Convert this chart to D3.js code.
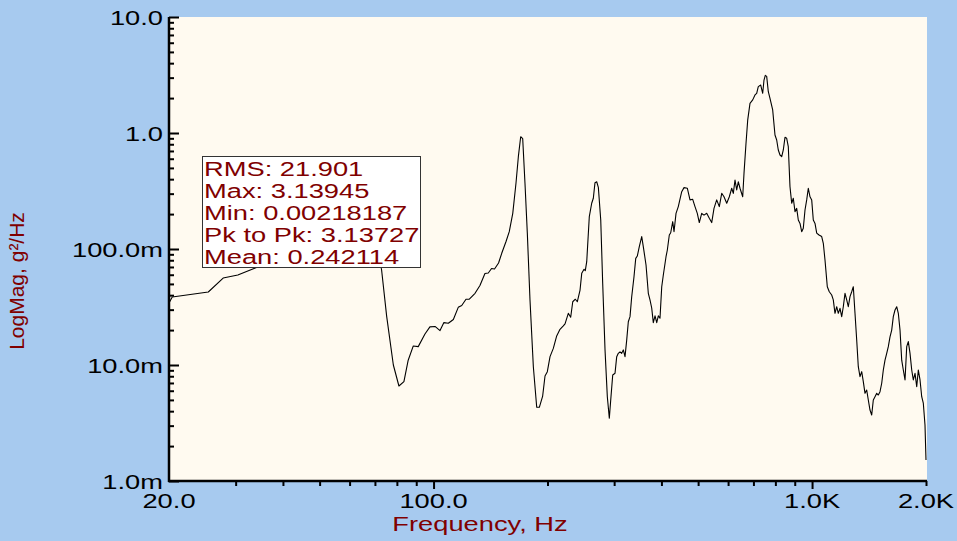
<!DOCTYPE html>
<html>
<head>
<meta charset="utf-8">
<script src="https://cdn.jsdelivr.net/npm/d3@7"></script>
<style>
  html, body { margin: 0; padding: 0; background: #A7CAEF; }
  svg { display: block; }
  text { font-family: "Liberation Sans", Arial, sans-serif; }
</style>
</head>
<body>
<svg id="chart" width="957" height="541"></svg>
<script>
// ---- data ----
const freqHz = [20.0, 20.4, 25.4, 27.8, 30.4, 33.8, 39.3, 47.2, 54.9, 60.9, 65.5, 67.9, 70.4, 72.9, 75.2, 78.3, 81.0, 83.5, 85.7, 88.4, 91.1, 94.9, 97.8, 100.9, 104.0, 106.5, 109.4, 112.8, 116.2, 118.7, 121.8, 124.3, 128.7, 132.6, 136.7, 139.5, 142.3, 144.9, 148.5, 151.4, 155.4, 158.5, 161.9, 165.1, 167.5, 169.9, 172.0, 174.4, 176.9, 179.8, 183.5, 187.3, 190.3, 194.2, 197.0, 199.8, 203.1, 207.2, 211.5, 215.8, 220.2, 222.5, 227.0, 230.3, 233.2, 236.9, 239.8, 243.8, 246.3, 249.8, 251.7, 253.9, 257.9, 261.7, 264.3, 267.0, 269.8, 272.5, 276.5, 279.8, 283.8, 287.8, 291.3, 293.8, 297.4, 301.6, 304.7, 307.7, 310.9, 314.1, 317.2, 320.5, 323.8, 327.0, 330.4, 333.8, 338.5, 342.1, 345.4, 349.6, 354.8, 358.2, 364.2, 369.3, 373.1, 377.0, 380.7, 384.7, 388.7, 392.5, 396.5, 400.7, 404.6, 411.3, 414.6, 419.6, 423.2, 428.4, 431.8, 437.1, 443.2, 452.5, 458.9, 468.2, 475.9, 483.8, 490.6, 497.5, 503.6, 511.0, 518.2, 526.8, 535.2, 543.1, 550.7, 559.8, 568.8, 577.2, 585.3, 595.0, 604.5, 613.4, 619.4, 625.8, 632.3, 638.4, 645.1, 655.8, 661.0, 669.1, 676.0, 685.5, 696.9, 706.7, 714.0, 721.0, 731.7, 740.6, 746.5, 752.4, 758.8, 766.3, 774.2, 787.0, 798.1, 806.4, 814.3, 822.8, 831.4, 839.5, 848.2, 857.0, 865.4, 874.4, 883.5, 892.1, 901.4, 910.8, 919.7, 929.3, 938.9, 948.1, 958.0, 967.9, 977.4, 987.6, 997.8, 1007.6, 1018.1, 1028.7, 1043.2, 1060.4, 1070.8, 1081.9, 1097.2, 1110.6, 1126.9, 1137.9, 1149.7, 1161.7, 1173.1, 1185.3, 1197.6, 1209.3, 1221.9, 1234.6, 1246.7, 1259.6, 1272.7, 1285.2, 1298.5, 1312.0, 1324.9, 1338.6, 1352.6, 1365.8, 1380.0, 1394.3, 1408.0, 1422.6, 1437.4, 1451.5, 1466.6, 1481.8, 1496.3, 1511.9, 1527.6, 1542.6, 1558.6, 1574.8, 1590.2, 1606.7, 1623.4, 1639.3, 1656.4, 1673.6, 1690.0, 1707.6, 1725.3, 1742.2, 1760.3, 1778.6, 1796.0, 1814.7, 1833.6, 1851.5, 1870.8, 1890.2, 1908.7, 1928.6, 1948.6, 1967.4, 1987.8, 2000];

const logMag = [0.0342, 0.0386, 0.0426, 0.0562, 0.0597, 0.0686, 0.0836, 0.102, 0.129, 0.178, 0.286, 0.240, 0.120, 0.0659, 0.0261, 0.0100, 0.00659, 0.00718, 0.0110, 0.0146, 0.0144, 0.0185, 0.0213, 0.0215, 0.0198, 0.0232, 0.0229, 0.0247, 0.0314, 0.0326, 0.0369, 0.0370, 0.0415, 0.0485, 0.0615, 0.0621, 0.0679, 0.0672, 0.0758, 0.0918, 0.116, 0.141, 0.203, 0.369, 0.625, 0.929, 0.893, 0.369, 0.137, 0.0364, 0.00967, 0.00432, 0.00432, 0.00540, 0.00804, 0.00876, 0.0118, 0.0139, 0.0178, 0.0203, 0.0217, 0.0226, 0.0279, 0.0258, 0.0351, 0.0369, 0.0351, 0.0443, 0.0617, 0.0668, 0.0650, 0.0777, 0.190, 0.248, 0.274, 0.373, 0.380, 0.340, 0.178, 0.0506, 0.0135, 0.00533, 0.00347, 0.00499, 0.00820, 0.00848, 0.0118, 0.0126, 0.0130, 0.0126, 0.0135, 0.0118, 0.0164, 0.0236, 0.0261, 0.0388, 0.0577, 0.0831, 0.0870, 0.105, 0.128, 0.105, 0.0728, 0.0415, 0.0364, 0.0310, 0.0232, 0.0265, 0.0232, 0.0265, 0.0253, 0.0473, 0.0597, 0.0858, 0.0980, 0.132, 0.138, 0.172, 0.141, 0.203, 0.232, 0.312, 0.338, 0.334, 0.265, 0.268, 0.232, 0.203, 0.169, 0.203, 0.196, 0.203, 0.184, 0.169, 0.224, 0.265, 0.232, 0.302, 0.282, 0.248, 0.282, 0.334, 0.302, 0.393, 0.323, 0.380, 0.334, 0.282, 0.449, 0.815, 1.29, 1.80, 1.93, 2.13, 2.20, 2.51, 2.59, 2.20, 2.86, 3.14, 3.08, 2.27, 1.99, 1.58, 0.961, 0.870, 0.714, 0.646, 0.625, 0.714, 0.918, 0.900, 0.762, 0.344, 0.248, 0.274, 0.210, 0.224, 0.178, 0.166, 0.141, 0.151, 0.217, 0.265, 0.334, 0.282, 0.265, 0.178, 0.166, 0.137, 0.132, 0.128, 0.112, 0.0804, 0.0473, 0.0428, 0.0401, 0.0364, 0.0279, 0.0318, 0.0279, 0.0308, 0.0261, 0.0318, 0.0415, 0.0364, 0.0318, 0.0388, 0.0428, 0.0473, 0.0279, 0.0164, 0.00967, 0.00793, 0.00876, 0.00718, 0.00570, 0.00609, 0.00499, 0.00409, 0.00371, 0.00499, 0.00533, 0.00570, 0.00551, 0.00589, 0.00696, 0.00906, 0.0110, 0.0126, 0.0144, 0.0175, 0.0200, 0.0261, 0.0298, 0.0318, 0.0279, 0.0200, 0.0110, 0.00906, 0.00743, 0.0144, 0.0159, 0.0126, 0.00906, 0.00743, 0.00848, 0.00650, 0.00906, 0.00743, 0.00533, 0.00470, 0.00304, 0.00152];

const xTickValues = [20, 100, 1000, 2000];
const xTickLabels = ["20.0", "100.0", "1.0K", "2.0K"];
const xMinorTicks = [30, 40, 50, 60, 70, 80, 90, 200, 300, 400, 500, 600, 700, 800, 900, 2000];
const yTickValues = [0.001, 0.01, 0.1, 1, 10];
const yTickLabels = ["1.0m", "10.0m", "100.0m", "1.0", "10.0"];
const yMinorTicks = [];
[0.001, 0.01, 0.1, 1].forEach(d => { for (let k = 2; k <= 9; k++) yMinorTicks.push(d * k); });

const statLabels = ["RMS: 21.901", "Max: 3.13945", "Min: 0.00218187", "Pk to Pk: 3.13727", "Mean: 0.242114"];
const xTitle = "Frequency, Hz";
const yTitle = "LogMag, g\u00B2/Hz";

// ---- layout ----
const W = 957, H = 541;
const L = 169, R = 926, T = 17, B = 481;
const SX = 1.3;             // horizontal text stretch of the original
const darkRed = "#800000";

const svg = d3.select("#chart");
svg.append("rect").attr("width", W).attr("height", H).attr("fill", "#A7CAEF");

const x = d3.scaleLog().domain([20, 2000]).range([L, R]);
const y = d3.scaleLog().domain([0.001, 10]).range([B, T]);

svg.append("rect").attr("x", L).attr("y", T).attr("width", R - L + 1).attr("height", B - T)
  .attr("fill", "#FFFAF0");

function stretchedText(g, tx, ty, str, anchor, color, size) {
  return g.append("text")
    .attr("transform", `translate(${tx},${ty}) scale(${SX},1)`)
    .attr("text-anchor", anchor)
    .attr("fill", color)
    .attr("font-size", size)
    .text(str);
}

// curve
const pts = d3.zip(freqHz, logMag);
const line = d3.line().x(d => x(d[0])).y(d => y(d[1]));
svg.append("path").datum(pts).attr("d", line)
  .attr("fill", "none").attr("stroke", "#000").attr("stroke-width", 1.1)
  .attr("stroke-linejoin", "round");

// axes ticks via d3 axes
const yMajor = svg.append("g").attr("transform", `translate(${L},0)`)
  .call(d3.axisRight(y).tickValues(yTickValues).tickSize(10).tickFormat(""));
const yMinor = svg.append("g").attr("transform", `translate(${L},0)`)
  .call(d3.axisRight(y).tickValues(yMinorTicks).tickSize(5).tickFormat(""));
const xMajor = svg.append("g").attr("transform", `translate(0,${B})`)
  .call(d3.axisBottom(x).tickValues([100, 1000]).tickSize(8).tickFormat(""));
const xMinor = svg.append("g").attr("transform", `translate(0,${B})`)
  .call(d3.axisBottom(x).tickValues(xMinorTicks).tickSize(5).tickFormat(""));
[yMajor, yMinor, xMajor, xMinor].forEach(g => {
  g.select(".domain").remove();
  g.selectAll("line").attr("stroke", "#000").attr("stroke-width", 2);
});

// axis lines
svg.append("line").attr("x1", L).attr("x2", L).attr("y1", T).attr("y2", B + 1)
  .attr("stroke", "#000").attr("stroke-width", 2.5);
svg.append("line").attr("x1", L - 1).attr("x2", R + 1).attr("y1", B).attr("y2", B)
  .attr("stroke", "#000").attr("stroke-width", 2.5);

// tick labels
const labels = svg.append("g");
yTickValues.forEach((v, i) => stretchedText(labels, L - 6, y(v) + 8, yTickLabels[i], "end", "#000", 21));
xTickValues.forEach((v, i) => stretchedText(labels, x(v), 508, xTickLabels[i], "middle", "#000", 21));

// axis titles
stretchedText(svg, 480, 531, xTitle, "middle", darkRed, 21);
svg.append("text")
  .attr("transform", "translate(24,281) rotate(-90)")
  .attr("text-anchor", "middle").attr("fill", darkRed).attr("font-size", 21)
  .text(yTitle);

// statistics box
const box = svg.append("g");
box.append("rect").attr("x", 202.5).attr("y", 156.5).attr("width", 218).attr("height", 111)
  .attr("fill", "#fff").attr("stroke", "#333").attr("stroke-width", 1);
statLabels.forEach((s, i) => stretchedText(box, 204, 176 + i * 22, s, "start", darkRed, 21));
</script>
</body>
</html>
